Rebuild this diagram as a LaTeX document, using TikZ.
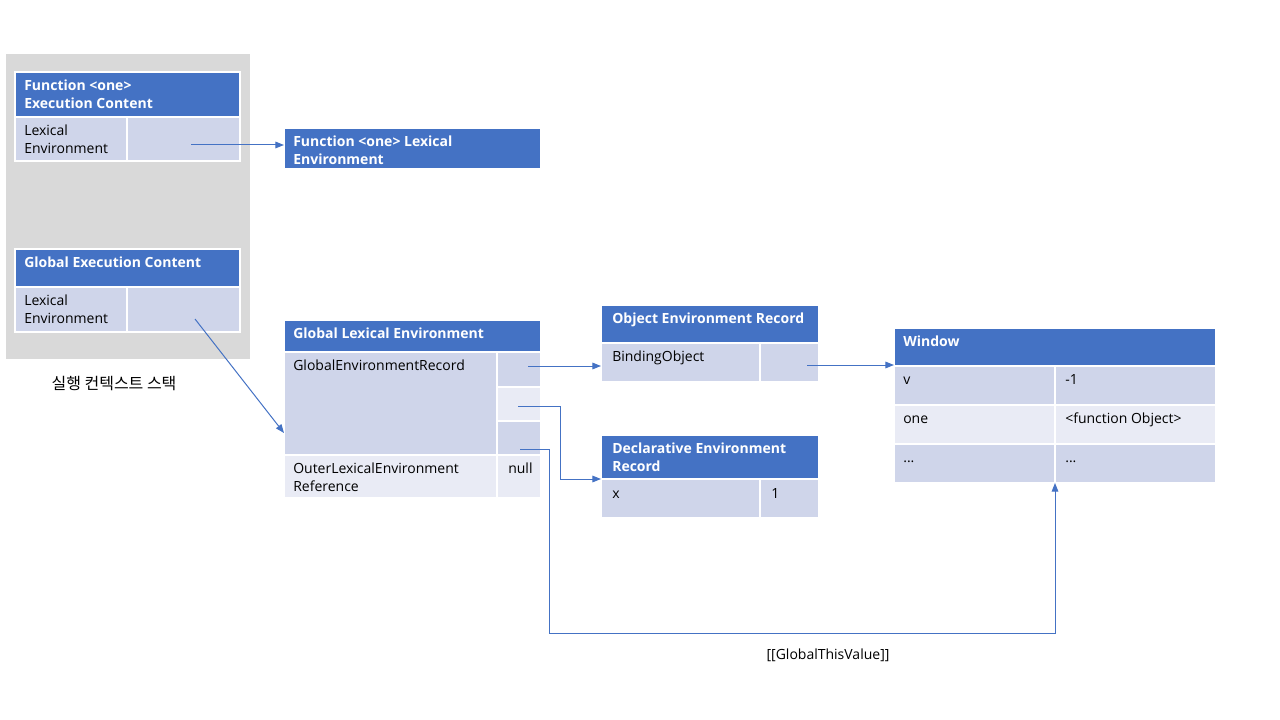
\documentclass[tikz,border=0pt]{standalone}
\usepackage{fontspec}
\setmainfont{Open Sans}
\newfontfamily\krfont{Noto Sans CJK KR}
\usetikzlibrary{fit,calc,arrows.meta}
\definecolor{hdrblue}{HTML}{4472C4}
\definecolor{rowdark}{HTML}{CFD5EA}
\definecolor{rowlight}{HTML}{E9EBF5}
\definecolor{stackgray}{HTML}{D9D9D9}
% a filled table cell spanning (x1,y1)-(x2,y2), in pixel units
\newcommand\tcell[6]{\node[#2, fit={(#3,#4)(#5,#6)}] (#1) {};}
\newcommand\firstlinestrut{\rule{0pt}{8pt}}
\begin{document}
\begin{tikzpicture}[x=0.75pt,y=-0.75pt,
  box/.style={inner sep=0pt, outer sep=0pt, draw=white, line width=1.1pt},
  hdr/.style={box, fill=hdrblue},
  dark/.style={box, fill=rowdark},
  light/.style={box, fill=rowlight},
  txt/.style={anchor=north west, inner sep=0pt, align=left,
    font=\fontsize{10.5}{13.5}\selectfont, execute at begin node=\firstlinestrut},
  htxt/.style={txt, text=white, font=\bfseries\fontsize{10.5}{13.5}\selectfont},
  link/.style={draw=hdrblue, line width=0.75pt, -{Triangle[length=6.5pt,width=5pt]}}]
\useasboundingbox (0,0) rectangle (1280,720);

% execution context stack
\node[fill=stackgray, inner sep=0pt, outer sep=0pt, fit={(6,54)(250,359)}] (stack) {};
\node[anchor=base, font=\krfont\fontsize{12}{14}\selectfont] (stacklbl) at (114,389) {실행 컨텍스트 스택};

\tcell{fec}{hdr}{15}{72}{240}{117}
\tcell{fecl}{dark}{15}{117}{127}{161}
\tcell{fecr}{dark}{127}{117}{240}{161}
\node[htxt] (fec-t) at ($(fec.north west)+(9,7.5)$) {Function <one>\\Execution Content};
\node[txt] (fecl-t) at ($(fecl.north west)+(9,7.5)$) {Lexical\\Environment};

\tcell{gec}{hdr}{15}{249}{240}{287}
\tcell{gecl}{dark}{15}{287}{127}{332}
\tcell{gecr}{dark}{127}{287}{240}{332}
\node[htxt] (gec-t) at ($(gec.north west)+(9,7.5)$) {Global Execution Content};
\node[txt] (gecl-t) at ($(gecl.north west)+(9,7.5)$) {Lexical\\Environment};

% function lexical environment
\tcell{fle}{hdr}{284}{128}{541}{169}
\node[htxt] (fle-t) at ($(fle.north west)+(9,7.5)$) {Function <one> Lexical\\Environment};

% global lexical environment
\tcell{gle}{hdr}{284}{320}{541}{352}
\tcell{gler}{dark}{284}{352}{497}{455}
\tcell{gler1}{dark}{497}{352}{541}{387}
\tcell{gler2}{light}{497}{387}{541}{421}
\tcell{gler3}{dark}{497}{421}{541}{455}
\tcell{gleo}{light}{284}{455}{497}{498}
\tcell{gleon}{light}{497}{455}{541}{498}
\node[htxt] (gle-t) at ($(gle.north west)+(9,7.5)$) {Global Lexical Environment};
\node[txt] (gler-t) at ($(gler.north west)+(9,7.5)$) {GlobalEnvironmentRecord};
\node[txt] (gleo-t) at ($(gleo.north west)+(9,7.5)$) {OuterLexicalEnvironment\\Reference};
\node[txt] (gleon-t) at ($(gleon.north west)+(11,7.5)$) {null};

% object environment record
\tcell{oer}{hdr}{601}{305}{819}{343}
\tcell{oerl}{dark}{601}{343}{760}{382}
\tcell{oerr}{dark}{760}{343}{819}{382}
\node[htxt] (oer-t) at ($(oer.north west)+(11,8)$) {Object Environment Record};
\node[txt] (oerl-t) at ($(oerl.north west)+(11,7.5)$) {BindingObject};

% declarative environment record
\tcell{der}{hdr}{601}{435}{819}{479}
\tcell{derl}{dark}{601}{479}{760}{518}
\tcell{derr}{dark}{760}{479}{819}{518}
\node[htxt] (der-t) at ($(der.north west)+(11,7.5)$) {Declarative Environment\\Record};
\node[txt] (derl-t) at ($(derl.north west)+(11,9)$) {x};
\node[txt] (derr-t) at ($(derr.north west)+(11,9)$) {1};

% window object
\tcell{win}{hdr}{894}{328}{1216}{366}
\tcell{w1l}{dark}{894}{366}{1055}{405}
\tcell{w1r}{dark}{1055}{366}{1216}{405}
\tcell{w2l}{light}{894}{405}{1055}{444}
\tcell{w2r}{light}{1055}{405}{1216}{444}
\tcell{w3l}{dark}{894}{444}{1055}{483}
\tcell{w3r}{dark}{1055}{444}{1216}{483}
\node[htxt] (win-t) at ($(win.north west)+(9,8)$) {Window};
\node[txt] (w1l-t) at ($(w1l.north west)+(9,7.5)$) {v};
\node[txt] (w1r-t) at ($(w1r.north west)+(10,7.5)$) {-1};
\node[txt] (w2l-t) at ($(w2l.north west)+(9,7.5)$) {one};
\node[txt] (w2r-t) at ($(w2r.north west)+(10,7.5)$) {<function Object>};
\node[txt] (w3l-t) at ($(w3l.north west)+(9,7.5)$) {...};
\node[txt] (w3r-t) at ($(w3r.north west)+(10,7.5)$) {...};

% connector start points inside the reference cells
\coordinate (s1) at (191,145);
\coordinate (s2) at (195,319);
\coordinate (e2) at (284,433);
\coordinate (s3) at (528,366);
\coordinate (s4) at (518,406);
\coordinate (s5) at (520,449);
\coordinate (s6) at (807,365);

\draw[link] (s1) -- (s1 -| fle.west);
\draw[link] (s2) -- (e2);
\draw[link] (s3) -- (s3 -| oerl.west);
\draw[link] (s4) -| ($(s4)+(42,0)$) |- (der.south west);
\draw[link] (s5) -| ($(s5)+(29,184)$) -| (w3l.south east);
\draw[link] (s6) -- (s6 -| win.west);
\node[anchor=base, font=\fontsize{10.5}{13.5}\selectfont] (gtv) at (828,659) {[[GlobalThisValue]]};
\end{tikzpicture}
\end{document}
